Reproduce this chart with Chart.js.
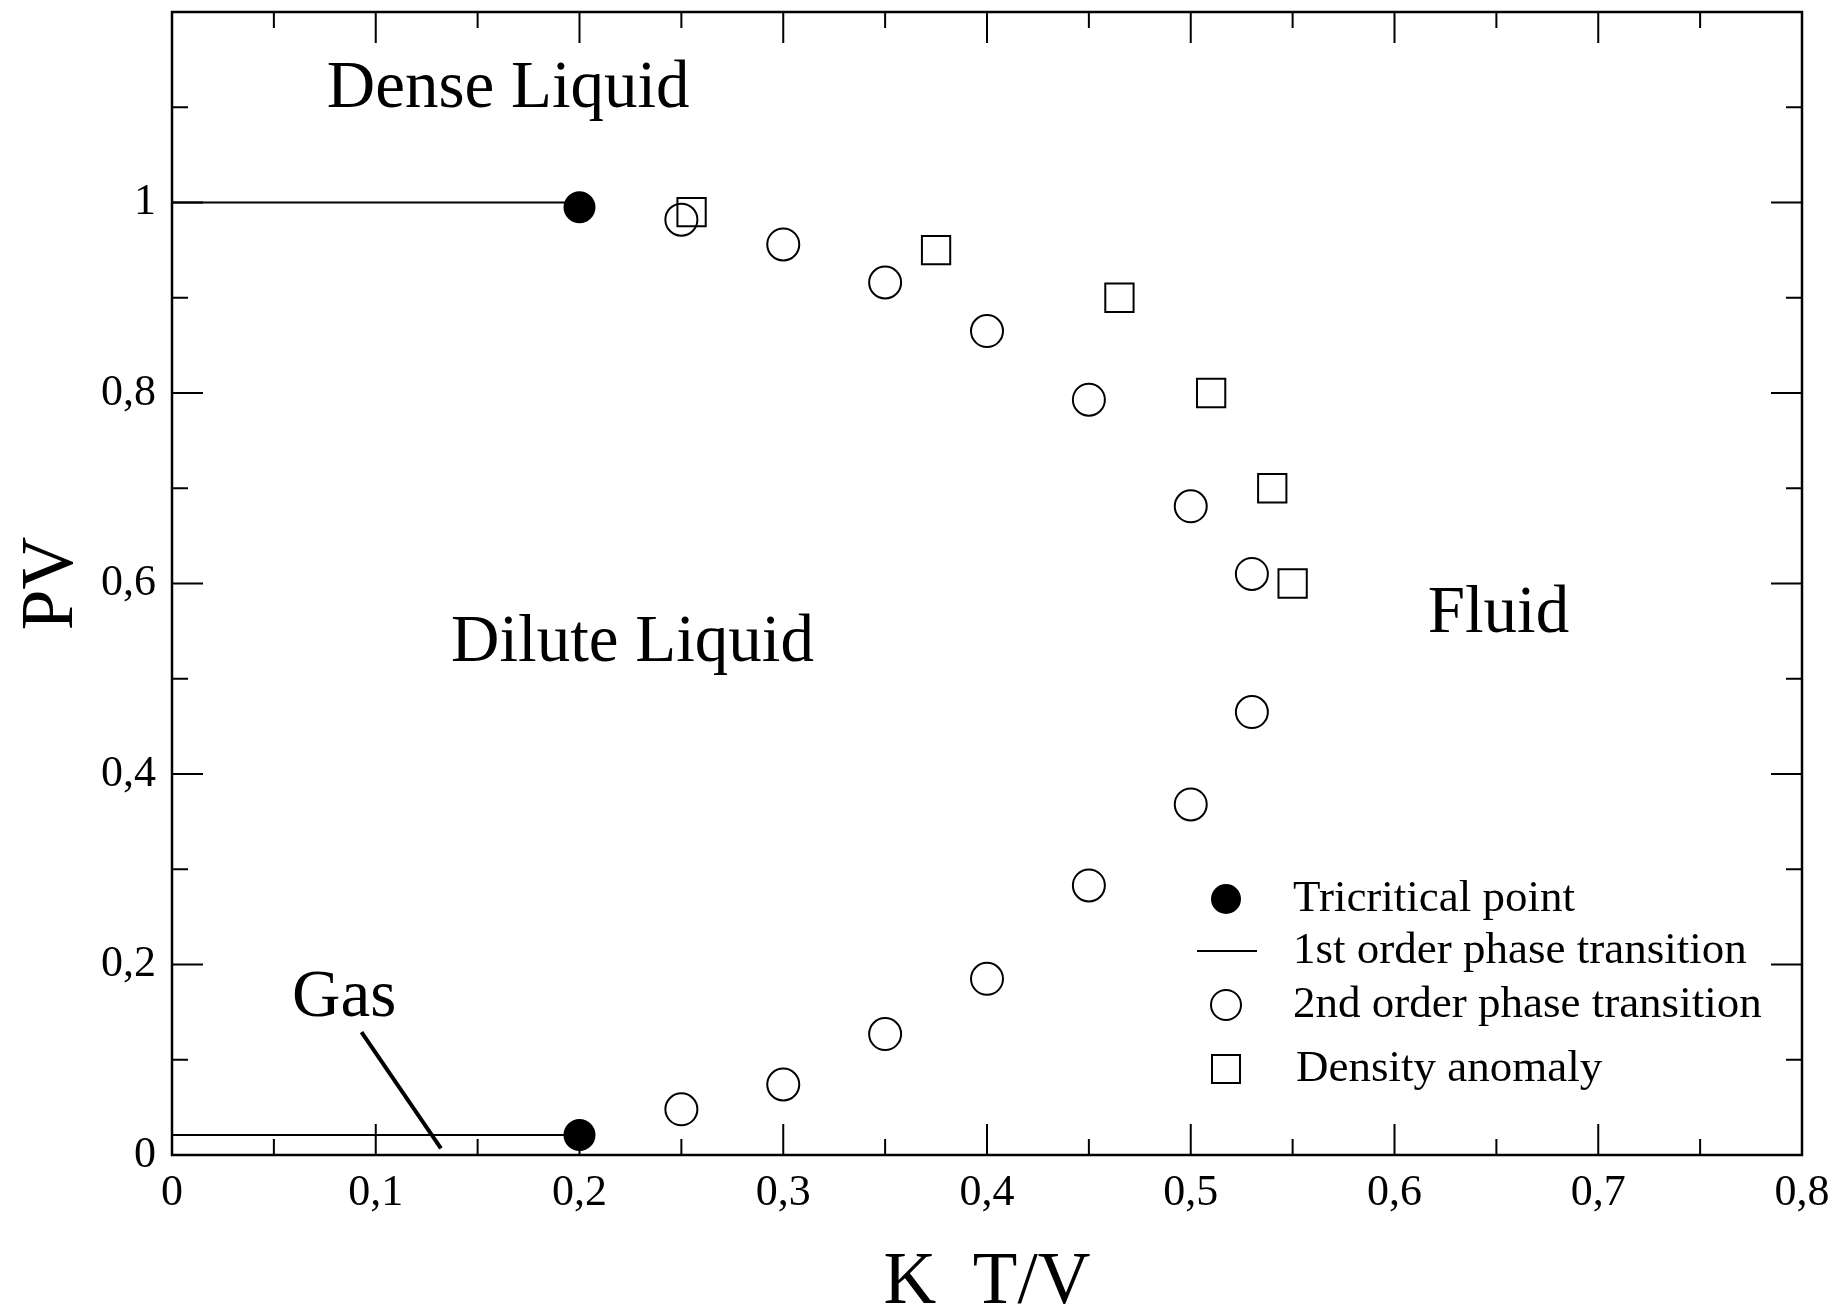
<!DOCTYPE html>
<html>
<head>
<meta charset="utf-8">
<script src="https://cdn.jsdelivr.net/npm/chart.js@4.4.0/dist/chart.umd.min.js"></script>
<style>
  html, body { margin: 0; padding: 0; background: #fff; }
  canvas { display: block; }
</style>
</head>
<body>
<canvas id="grafico" width="1836" height="1311"></canvas>
<script>
// ejes
const xTicks = [0, 0.1, 0.2, 0.3, 0.4, 0.5, 0.6, 0.7, 0.8];
const xTickLabels = ['0', '0,1', '0,2', '0,3', '0,4', '0,5', '0,6', '0,7', '0,8'];
const yTicks = [0, 0.2, 0.4, 0.6, 0.8, 1];
const yTickLabels = ['0', '0,2', '0,4', '0,6', '0,8', '1'];

// puntos tricriticos
const tricriticalX = [0.2, 0.2];
const tricriticalY = [0.995, 0.021];

// transicion de primer orden
const firstOrderUpperX = [0, 0.2];
const firstOrderUpperY = [1.0, 1.0];
const firstOrderLowerX = [0, 0.2];
const firstOrderLowerY = [0.021, 0.021];

// transicion de segundo orden
const secondOrderX = [0.25, 0.30, 0.35, 0.40, 0.45, 0.50, 0.53, 0.53, 0.50, 0.45, 0.40, 0.35, 0.30, 0.25];
const secondOrderY = [0.982, 0.956, 0.916, 0.865, 0.793, 0.681, 0.610, 0.465, 0.368, 0.283, 0.185, 0.127, 0.074, 0.048];

// anomalia de densidad
const anomalyX = [0.255, 0.375, 0.465, 0.51, 0.54, 0.55];
const anomalyY = [0.99, 0.95, 0.90, 0.80, 0.70, 0.60];

// flecha de "Gas"
const gasPointerX = [0.093, 0.132];
const gasPointerY = [0.129, 0.007];

// etiquetas de regiones
const regionLabels = ['Dense Liquid', 'Dilute Liquid', 'Fluid', 'Gas'];
const regionX = [0.165, 0.226, 0.651, 0.0845];
const regionY = [1.119, 0.5375, 0.568, 0.164];

const legendLabels = ['Tricritical point', '1st order phase transition', '2nd order phase transition', 'Density anomaly'];

const serif = "'Liberation Serif', 'DejaVu Serif', serif";
const pts = (xs, ys) => xs.map((x, i) => ({ x: x, y: ys[i] }));
const noPad = s => { s.paddingTop = 0; s.paddingBottom = 0; s.paddingLeft = 0; s.paddingRight = 0; };

// marco y marcas hacia dentro
const framePlugin = {
    id: 'frame',
    afterDraw(chart) {
        const { ctx, chartArea: a, scales: { x, y } } = chart;
        ctx.save();
        ctx.strokeStyle = '#000';
        ctx.lineWidth = 2;
        ctx.beginPath();
        for (let i = 0; i <= 16; i++) {
            const v = i * 0.05;
            const px = x.getPixelForValue(v);
            const len = i % 2 === 0 ? 31 : 16;
            ctx.moveTo(px, a.bottom); ctx.lineTo(px, a.bottom - len);
            ctx.moveTo(px, a.top); ctx.lineTo(px, a.top + len);
        }
        for (let i = 0; i <= 12; i++) {
            const v = i * 0.1;
            const py = y.getPixelForValue(v);
            const len = i % 2 === 0 ? 31 : 16;
            ctx.moveTo(a.left, py); ctx.lineTo(a.left + len, py);
            ctx.moveTo(a.right, py); ctx.lineTo(a.right - len, py);
        }
        ctx.stroke();
        ctx.lineWidth = 2.5;
        ctx.strokeRect(a.left, a.top, a.right - a.left, a.bottom - a.top);

        // etiquetas de regiones
        ctx.fillStyle = '#000';
        ctx.font = '67px ' + serif;
        ctx.textAlign = 'center';
        ctx.textBaseline = 'middle';
        regionLabels.forEach((t, i) => {
            ctx.fillText(t, x.getPixelForValue(regionX[i]), y.getPixelForValue(regionY[i]));
        });

        // leyenda
        const sx = 1226, tx = 1293;
        const rows = [899, 951, 1005, 1069];
        ctx.lineWidth = 2;
        ctx.beginPath();
        ctx.arc(sx, rows[0], 15, 0, Math.PI * 2);
        ctx.fill();
        ctx.beginPath();
        ctx.moveTo(sx - 29, rows[1]); ctx.lineTo(sx + 31, rows[1]);
        ctx.stroke();
        ctx.beginPath();
        ctx.arc(sx, rows[2], 15, 0, Math.PI * 2);
        ctx.stroke();
        ctx.strokeRect(sx - 14, rows[3] - 14, 28, 28);
        ctx.font = '45px ' + serif;
        ctx.textAlign = 'left';
        legendLabels.forEach((t, i) => {
            ctx.fillText(t, tx + (i === 3 ? 3 : 0), rows[i]);
        });
        ctx.restore();
    }
};

const ctx = document.getElementById('grafico').getContext('2d');

const chart = new Chart(ctx, {
    type: 'scatter',
    data: {
        datasets: [
            {
                label: 'gas',
                type: 'line',
                data: pts(gasPointerX, gasPointerY),
                borderColor: '#000',
                borderWidth: 4,
                pointRadius: 0,
                order: 5
            },
            {
                label: '1st order phase transition',
                type: 'line',
                data: pts(firstOrderUpperX, firstOrderUpperY),
                borderColor: '#000',
                borderWidth: 2,
                pointRadius: 0,
                order: 4
            },
            {
                label: '1st order lower',
                type: 'line',
                data: pts(firstOrderLowerX, firstOrderLowerY),
                borderColor: '#000',
                borderWidth: 2,
                pointRadius: 0,
                order: 4
            },
            {
                label: '2nd order phase transition',
                data: pts(secondOrderX, secondOrderY),
                pointStyle: 'circle',
                pointRadius: 16,
                pointBorderWidth: 2,
                pointBorderColor: '#000',
                pointBackgroundColor: 'rgba(0,0,0,0)',
                order: 3
            },
            {
                label: 'Density anomaly',
                data: pts(anomalyX, anomalyY),
                pointStyle: 'rect',
                pointRadius: 20,
                pointBorderWidth: 2,
                pointBorderColor: '#000',
                pointBackgroundColor: 'rgba(0,0,0,0)',
                order: 2
            },
            {
                label: 'Tricritical point',
                data: pts(tricriticalX, tricriticalY),
                pointStyle: 'circle',
                pointRadius: 15,
                pointBorderWidth: 2,
                pointBorderColor: '#000',
                pointBackgroundColor: '#000',
                order: 1
            }
        ]
    },
    options: {
        responsive: false,
        animation: false,
        events: [],
        layout: { autoPadding: false, padding: { top: 12, right: 34, left: 0, bottom: 0 } },
        plugins: { legend: { display: false }, tooltip: { enabled: false } },
        scales: {
            x: {
                type: 'linear',
                min: 0,
                max: 0.8,
                grid: { display: false },
                border: { display: false },
                afterBuildTicks: s => { s.ticks = xTicks.map(v => ({ value: v })); },
                afterFit: s => { s.height = 156; noPad(s); },
                ticks: {
                    color: '#000',
                    padding: 4,
                    maxRotation: 0,
                    font: { family: serif, size: 44 },
                    callback: (v, i) => xTickLabels[i]
                },
                title: {
                    display: true,
                    text: 'K  T/V',
                    color: '#000',
                    padding: 0,
                    font: { family: serif, size: 73, lineHeight: 0.75 }
                }
            },
            y: {
                type: 'linear',
                min: 0,
                max: 1.2,
                grid: { display: false },
                border: { display: false },
                afterBuildTicks: s => { s.ticks = yTicks.map(v => ({ value: v })); },
                afterFit: s => { s.width = 172; noPad(s); },
                ticks: {
                    color: '#000',
                    padding: 8,
                    font: { family: serif, size: 44 },
                    callback: (v, i) => yTickLabels[i]
                },
                title: {
                    display: true,
                    text: 'PV',
                    color: '#000',
                    padding: { top: 16, bottom: 0 },
                    font: { family: serif, size: 73, lineHeight: 1 }
                }
            }
        }
    },
    plugins: [framePlugin]
});
</script>
</body>
</html>
